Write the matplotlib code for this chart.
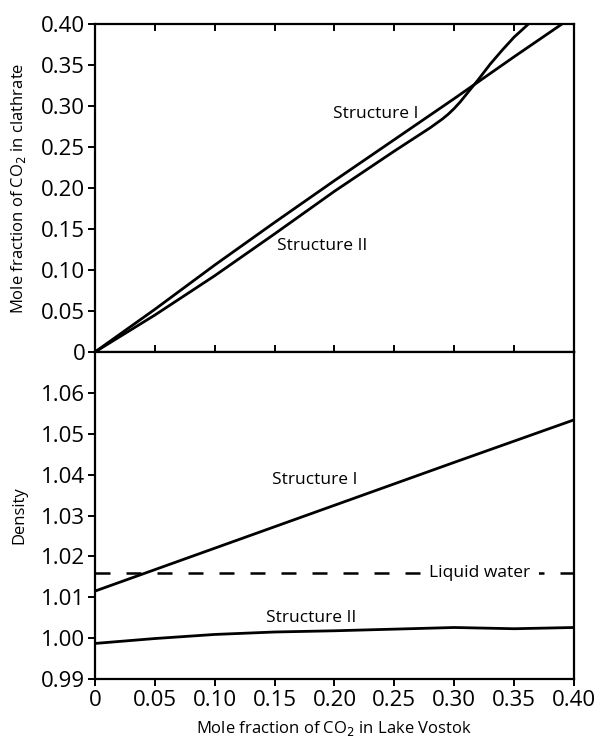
import numpy as np
import matplotlib
matplotlib.use("Agg")
import matplotlib.pyplot as plt
from matplotlib.ticker import FixedLocator, FuncFormatter

plt.rcParams['font.family'] = ['Open Sans', 'DejaVu Sans']

# top panel: mole fraction of CO2 in clathrate
s1_x = [0, 0.05, 0.10, 0.15, 0.20, 0.25, 0.30, 0.35, 0.39]
s1_y = [0, 0.052, 0.106, 0.158, 0.209, 0.259, 0.309, 0.360, 0.40]
s2_x = [0, 0.05, 0.10, 0.15, 0.20, 0.25, 0.27, 0.28, 0.29, 0.295, 0.30, 0.305,
        0.31, 0.32, 0.33, 0.34, 0.35, 0.362]
s2_y = [0, 0.045, 0.093, 0.144, 0.196, 0.245, 0.264, 0.2735, 0.284, 0.290, 0.297, 0.305,
        0.314, 0.332, 0.351, 0.368, 0.384, 0.40]

# bottom panel: density
d1_x = [0, 0.10, 0.20, 0.30, 0.40]
d1_y = [1.0115, 1.0220, 1.0325, 1.0430, 1.0534]
d2_x = [0, 0.05, 0.10, 0.15, 0.20, 0.25, 0.30, 0.35, 0.40]
d2_y = [0.9987, 0.9999, 1.0009, 1.0015, 1.0018, 1.0022, 1.0026, 1.0023, 1.0026]
water_density = 1.016

xticks = [0, 0.05, 0.10, 0.15, 0.20, 0.25, 0.30, 0.35, 0.40]
top_yticks = [0, 0.05, 0.10, 0.15, 0.20, 0.25, 0.30, 0.35, 0.40]
bot_yticks = [0.99, 1.00, 1.01, 1.02, 1.03, 1.04, 1.05, 1.06]

fig = plt.figure(figsize=(5.97, 7.42), dpi=100)
ax1 = fig.add_axes([0.159, 0.5256, 0.8025, 0.4421])
ax2 = fig.add_axes([0.159, 0.0849, 0.8025, 0.4407])

lw = 2.0
ax1.plot(s1_x, s1_y, color='black', lw=lw, solid_capstyle='butt')
ax1.plot(s2_x, s2_y, color='black', lw=lw, solid_capstyle='butt')
ax1.set_xlim(0, 0.40)
ax1.set_ylim(0, 0.40)

ax2.plot(d1_x, d1_y, color='black', lw=lw)
ax2.plot(d2_x, d2_y, color='black', lw=lw)
ax2.axhline(water_density, color='black', lw=1.8, dashes=(6, 6.4))
ax2.set_xlim(0, 0.40)
ax2.set_ylim(0.99, 1.07)

fmt = lambda v, p: '0' if abs(v) < 1e-9 else '%.2f' % v

for ax in (ax1, ax2):
    for s in ax.spines.values():
        s.set_linewidth(1.6)
    ax.xaxis.set_major_locator(FixedLocator(xticks))
    ax.tick_params(axis='both', labelsize=16, width=1.4, length=5, pad=3)
    ax.tick_params(axis='y', direction='out', right=False, pad=2)

ax1.yaxis.set_major_locator(FixedLocator(top_yticks))
ax1.yaxis.set_major_formatter(FuncFormatter(fmt))
ax1.tick_params(axis='x', direction='in', top=True, bottom=True, labelbottom=False)

ax2.yaxis.set_major_locator(FixedLocator(bot_yticks))
ax2.yaxis.set_major_formatter(FuncFormatter(lambda v, p: '%.2f' % v))
ax2.xaxis.set_major_formatter(FuncFormatter(fmt))
ax2.tick_params(axis='x', direction='out', top=False)

ax1.set_ylabel('Mole fraction of CO$_2$ in clathrate', fontsize=12)
ax2.set_ylabel('Density', fontsize=12)
ax2.set_xlabel('Mole fraction of CO$_2$ in Lake Vostok', fontsize=12, labelpad=6)
ax1.yaxis.set_label_coords(-0.14, 0.5)
ax2.yaxis.set_label_coords(-0.14, 0.5)

ax1.text(0.2347, 0.290, 'Structure I', fontsize=12.5, ha='center', va='center')
ax1.text(0.190, 0.129, 'Structure II', fontsize=12.5, ha='center', va='center')
ax2.text(0.1837, 1.0388, 'Structure I', fontsize=12.5, ha='center', va='center')
ax2.text(0.3215, water_density, 'Liquid water', fontsize=12.5, ha='center', va='center',
         bbox=dict(facecolor='white', edgecolor='none', pad=6))
ax2.text(0.1804, 1.0050, 'Structure II', fontsize=12.5, ha='center', va='center')

fig.savefig('out.png', dpi=100)
